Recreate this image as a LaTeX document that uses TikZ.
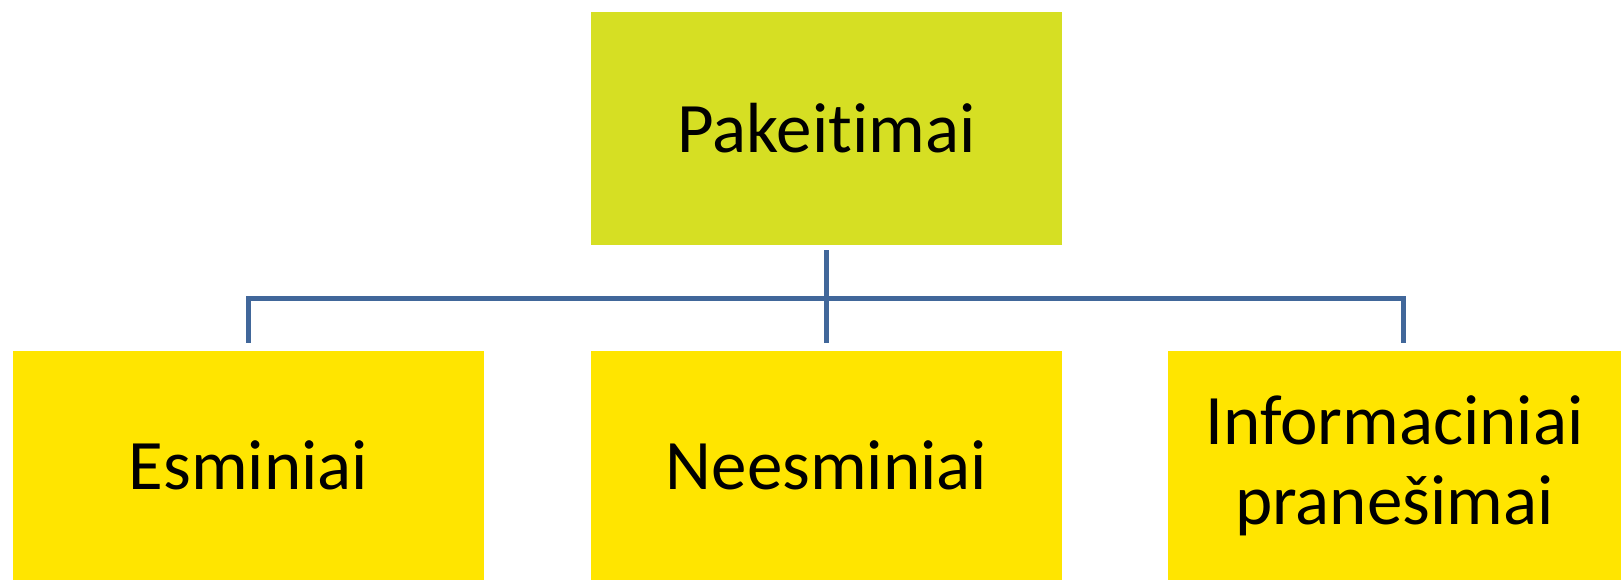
\documentclass[tikz,border=0pt]{standalone}
\usepackage{fontspec}
\setmainfont{Carlito}[Ligatures={NoCommon}]
\definecolor{topfill}{HTML}{D6DF23}
\definecolor{boxfill}{HTML}{FFE500}
\definecolor{connblue}{HTML}{41679A}
\tikzset{
  box/.style={fill=boxfill, draw=none, inner sep=0pt, minimum height=229pt, minimum width=471pt,
    align=center, font=\fontsize{71}{80}\selectfont},
  conn/.style={draw=connblue, line width=5pt},
}
\begin{document}
\begin{tikzpicture}[x=1pt,y=-1pt]
\useasboundingbox[fill=white] (0,0) rectangle (1623,581);
\node[box, fill=topfill, minimum height=233pt] (top) at (826.5,128.5) {Pakeitimai};
\node[box] (left) at (248.5,465.5) {Esminiai};
\node[box] (mid) at (826.5,465.5) {Neesminiai};
\node[box, minimum width=453pt] (right) at (1394.5,465.5) {Informaciniai\\pranešimai};
\coordinate (bus) at (826.5,298);
\draw[conn, shorten <=5pt, shorten >=8pt] (top.south) -- (mid.north);
\draw[conn, shorten <=8pt, shorten >=8pt] (left.north) |- (bus) -| ([xshift=9pt]right.north);
\end{tikzpicture}
\end{document}
